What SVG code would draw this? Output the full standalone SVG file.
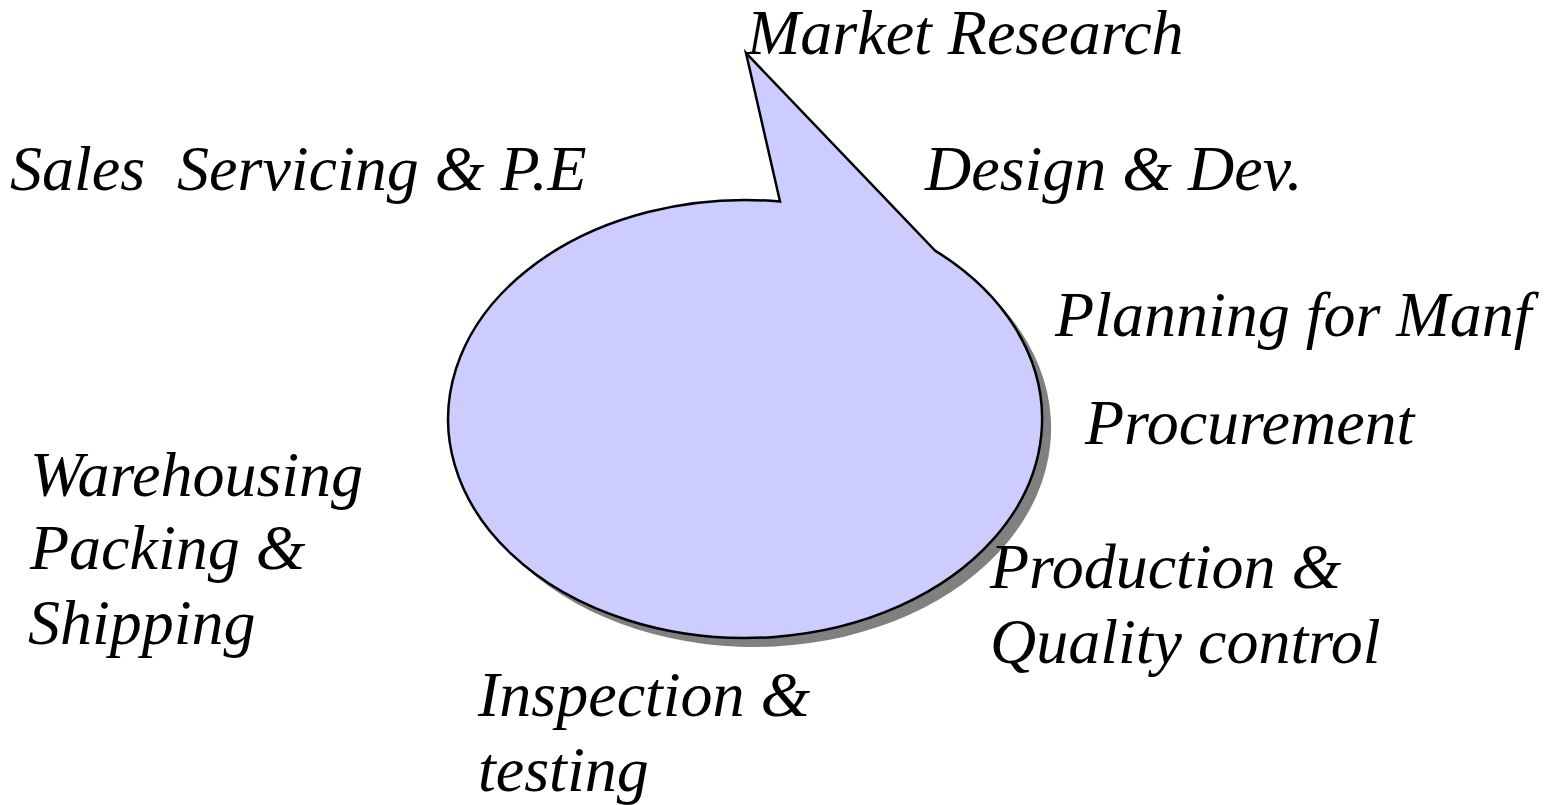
<svg xmlns="http://www.w3.org/2000/svg" width="1546" height="805" viewBox="0 0 1546 805">
  <style>
    .lbl { font-family: "Liberation Serif", "Times New Roman", serif; font-style: italic; font-size: 64px; fill: #000; }
    .balloon { fill: #CCCCFF; stroke: #000; stroke-width: 2.5; stroke-linejoin: miter; }
    .shadow { fill: #808080; }
  </style>
  <defs>
    <path id="balloonShape" d="M 780 201.5 L 746 53 L 935 250.6 A 297 219 0 1 1 780 201.5 Z"/>
  </defs>
  <rect width="1546" height="805" fill="#FFFFFF"/>

  <!-- callout balloon with drop shadow -->
  <g id="balloon">
    <use href="#balloonShape" class="shadow" transform="translate(9,9)"/>
    <use href="#balloonShape" class="balloon"/>
  </g>

  <!-- stage labels around the cycle -->
  <g id="market-research"><text class="lbl" x="747" y="54">Market Research</text></g>
  <g id="sales-servicing"><text class="lbl" x="10" y="190" xml:space="preserve">Sales  Servicing &amp; P.E</text></g>
  <g id="design-dev"><text class="lbl" x="925" y="190">Design &amp; Dev.</text></g>
  <g id="planning"><text class="lbl" x="1055" y="336">Planning for Manf</text></g>
  <g id="procurement"><text class="lbl" x="1085" y="444">Procurement</text></g>
  <g id="production"><text class="lbl" x="990" y="588">Production &amp;</text><text class="lbl" x="990" y="663">Quality control</text></g>
  <g id="inspection"><text class="lbl" x="478" y="716">Inspection &amp;</text><text class="lbl" x="478" y="791">testing</text></g>
  <g id="warehousing"><text class="lbl" x="30" y="496">Warehousing</text><text class="lbl" x="30" y="569">Packing &amp;</text><text class="lbl" x="28" y="644">Shipping</text></g>
</svg>
